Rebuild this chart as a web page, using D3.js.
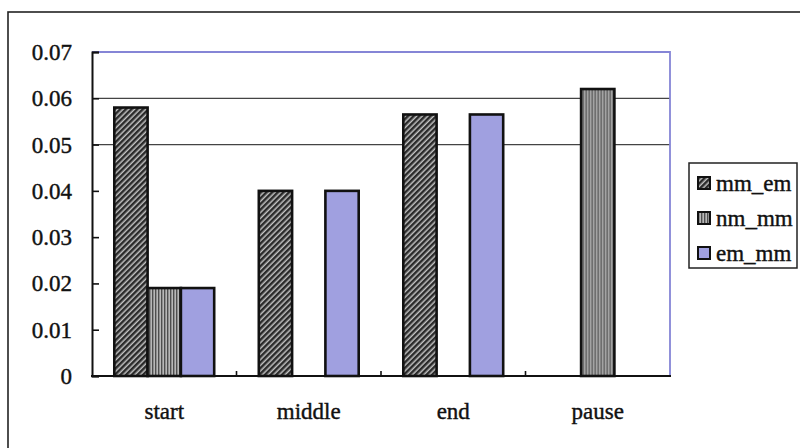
<!DOCTYPE html>
<html>
<head>
<meta charset="utf-8">
<script src="https://cdn.jsdelivr.net/npm/d3@7"></script>
<style>
  html, body { margin: 0; padding: 0; background: #fff; }
  svg { display: block; }
</style>
</head>
<body>
<svg id="chart" width="800" height="448"></svg>
<script>
// Categories, series and values
const categories = ["start", "middle", "end", "pause"];
const seriesNames = ["mm_em", "nm_mm", "em_mm"];
const mm_em = [0.058, 0.040, 0.0565, 0];
const nm_mm = [0.019, 0, 0, 0.062];
const em_mm = [0.019, 0.040, 0.0565, 0];
const yTicks = [0, 0.01, 0.02, 0.03, 0.04, 0.05, 0.06, 0.07];
const gridValues = [0.05, 0.06];

const seriesValues = { mm_em, nm_mm, em_mm };
const fontSize = 23;

const svg = d3.select("#chart");
const plot = { left: 92, right: 670, top: 52, bottom: 376 };

// Fill patterns for the three series
const defs = svg.append("defs");
const hatch = defs.append("pattern")
  .attr("id", "pat-mm_em").attr("patternUnits", "userSpaceOnUse")
  .attr("width", 4).attr("height", 4)
  .attr("patternTransform", "rotate(45)");
hatch.append("rect").attr("width", 4).attr("height", 4).attr("fill", "#c2c2c2");
hatch.append("rect").attr("width", 2.5).attr("height", 4).attr("fill", "#2a2a2a");

const vstripe = defs.append("pattern")
  .attr("id", "pat-nm_mm").attr("patternUnits", "userSpaceOnUse")
  .attr("width", 3).attr("height", 3);
vstripe.append("rect").attr("width", 3).attr("height", 3).attr("fill", "#b8b8b8");
vstripe.append("rect").attr("width", 1.4).attr("height", 3).attr("fill", "#4e4e4e");

const fills = {
  mm_em: "url(#pat-mm_em)",
  nm_mm: "url(#pat-nm_mm)",
  em_mm: "#a0a0e0"
};

// Shared text styling
function serifText(sel) {
  return sel.style("font-family", '"Liberation Serif", "Times New Roman", serif')
    .style("font-size", fontSize + "px")
    .style("fill", "#111")
    .style("stroke", "#111").style("stroke-width", "0.4px");
}

// Outer chart frame (runs off the right and bottom edges)
svg.append("rect")
  .attr("x", 8).attr("y", 12).attr("width", 820).attr("height", 460)
  .attr("fill", "none").attr("stroke", "#222").attr("stroke-width", 1.6);

// Scales
const x0 = d3.scaleBand().domain(categories).range([plot.left, plot.right]).padding(0);
const x1 = d3.scaleBand().domain(seriesNames).range([0, x0.bandwidth()])
  .paddingInner(0).paddingOuter(0.67);
const y = d3.scaleLinear().domain([0, 0.07]).range([plot.bottom, plot.top]);

// Gridlines
svg.append("g").selectAll("line").data(gridValues).join("line")
  .attr("x1", plot.left).attr("x2", plot.right)
  .attr("y1", d => y(d)).attr("y2", d => y(d))
  .attr("stroke", "#444").attr("stroke-width", 1.3);

// Plot area top and right border
svg.append("path")
  .attr("d", `M${plot.left},${plot.top}H${plot.right}V${plot.bottom}`)
  .attr("fill", "none").attr("stroke", "#8585d6").attr("stroke-width", 1.8);

// Bars
const rows = categories.map((c, i) => ({
  cat: c,
  bars: seriesNames.map(s => ({ s, v: seriesValues[s][i] })).filter(b => b.v > 0)
}));
const groups = svg.append("g").selectAll("g").data(rows).join("g")
  .attr("transform", d => `translate(${x0(d.cat)},0)`);
groups.selectAll("rect").data(d => d.bars).join("rect")
  .attr("x", d => x1(d.s))
  .attr("y", d => y(d.v))
  .attr("width", x1.bandwidth())
  .attr("height", d => y(0) - y(d.v))
  .attr("fill", d => fills[d.s])
  .attr("stroke", "#111").attr("stroke-width", 2.6);

// Y axis (inward ticks)
const yAxis = d3.axisRight(y).tickValues(yTicks).tickSize(7).tickFormat("");
const gy = svg.append("g").attr("transform", `translate(${plot.left},0)`).call(yAxis);
gy.select(".domain").attr("stroke", "#111").attr("stroke-width", 2);
gy.selectAll(".tick line").attr("stroke", "#111").attr("stroke-width", 1.6);

svg.append("g").selectAll("text").data(yTicks).join("text")
  .attr("x", 72).attr("y", d => y(d)).attr("dy", "0.35em")
  .attr("text-anchor", "end")
  .call(serifText)
  .text(d => d === 0 ? "0" : d3.format(".2f")(d));

// X axis (small inward ticks between categories)
const boundaries = categories.slice(1).map(c => x0(c));
svg.append("g").selectAll("line").data(boundaries).join("line")
  .attr("x1", d => d).attr("x2", d => d)
  .attr("y1", plot.bottom).attr("y2", plot.bottom - 5)
  .attr("stroke", "#111").attr("stroke-width", 1.6);
svg.append("line")
  .attr("x1", plot.left - 1).attr("x2", plot.right + 1)
  .attr("y1", plot.bottom).attr("y2", plot.bottom)
  .attr("stroke", "#111").attr("stroke-width", 2);

svg.append("g").selectAll("text").data(categories).join("text")
  .attr("x", d => x0(d) + x0.bandwidth() / 2).attr("y", 419)
  .attr("text-anchor", "middle")
  .call(serifText)
  .text(d => d);

// Legend
const legend = svg.append("g");
legend.append("rect")
  .attr("x", 689).attr("y", 163).attr("width", 108).attr("height", 105)
  .attr("fill", "#fff").attr("stroke", "#222").attr("stroke-width", 1.5);
const items = legend.selectAll("g").data(seriesNames).join("g")
  .attr("transform", (d, i) => `translate(698,${183 + i * 35})`);
items.append("rect")
  .attr("x", 0).attr("y", -6).attr("width", 12).attr("height", 12)
  .attr("fill", d => fills[d]).attr("stroke", "#111").attr("stroke-width", 2);
items.append("text")
  .attr("x", 18).attr("y", 0).attr("dy", "0.35em")
  .call(serifText)
  .text(d => d);
</script>
</body>
</html>
